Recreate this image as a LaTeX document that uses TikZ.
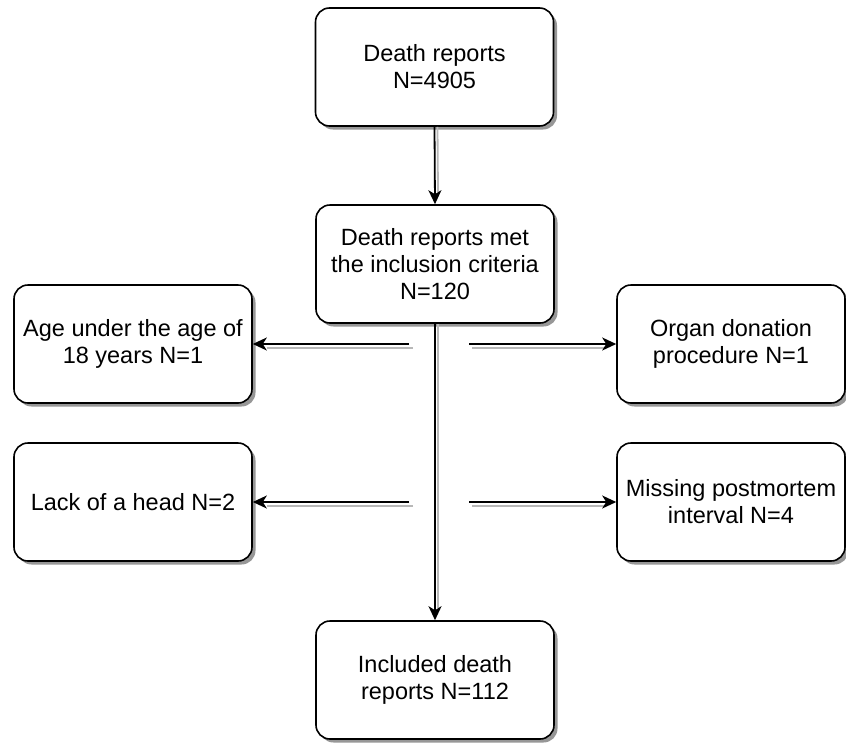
\documentclass[tikz,border=0pt]{standalone}
\usepackage{fontspec}
\setmainfont{Liberation Sans}
\usetikzlibrary{arrows.meta,shadows}
\begin{document}
\begin{tikzpicture}[x=1pt,y=1pt,
  box/.style={draw=black, line width=1.6pt, rounded corners=14pt, fill=white,
    minimum width=238pt, minimum height=118pt, align=center, inner sep=0pt,
    font=\fontsize{23.5}{27}\selectfont,
    drop shadow={shadow xshift=3.5pt, shadow yshift=-3.5pt, fill=black!45, opacity=0.9}},
  arr/.style={line width=1.8pt, -{Stealth[length=14pt,width=13pt,inset=4pt]}},
  shd/.style={line width=1.8pt, draw=black!28}]
\useasboundingbox (0,0) rectangle (846,-742);

% nodes
\node[box] (top) at (434.5,-67) {Death reports\\N=4905};
\node[box] (mid) at (435,-264) {Death reports met\\the inclusion criteria\\N=120};
\node[box] (l1) at (133,-344) {Age under the age of\\18 years N=1};
\node[box, minimum width=228pt] (r1) at (731,-344) {Organ donation\\procedure N=1};
\node[box] (l2) at (133,-502) {Lack of a head N=2};
\node[box, minimum width=228pt] (r2) at (731,-502) {Missing postmortem\\interval N=4};
\node[box] (bot) at (435,-680) {Included death\\reports N=112};

% free ends of side arrows
\coordinate (sl1) at (409,-344);
\coordinate (sr1) at (469,-344);
\coordinate (sl2) at (409,-502);
\coordinate (sr2) at (469,-502);
\coordinate (sl1s) at (413,-348);
\coordinate (sr1s) at (472,-348);
\coordinate (sl2s) at (413,-506);
\coordinate (sr2s) at (472,-506);

% shadow lines
\draw[shd] ([xshift=3pt]top.south) -- ([xshift=3pt,yshift=12pt]mid.north);
\draw[shd] ([xshift=3pt]mid.south) -- ([xshift=3pt,yshift=12pt]bot.north);
\draw[shd] (sl1s) -- ([xshift=14pt,yshift=-4pt]l1.east);
\draw[shd] (sr1s) -- ([xshift=-12pt,yshift=-4pt]r1.west);
\draw[shd] (sl2s) -- ([xshift=14pt,yshift=-4pt]l2.east);
\draw[shd] (sr2s) -- ([xshift=-12pt,yshift=-4pt]r2.west);

% connectors
\draw[arr] (top.south) -- (mid.north);
\draw[arr] (mid.south) -- (bot.north);
\draw[arr] (sl1) -- (l1.east);
\draw[arr] (sr1) -- (r1.west);
\draw[arr] (sl2) -- (l2.east);
\draw[arr] (sr2) -- (r2.west);
\end{tikzpicture}
\end{document}
